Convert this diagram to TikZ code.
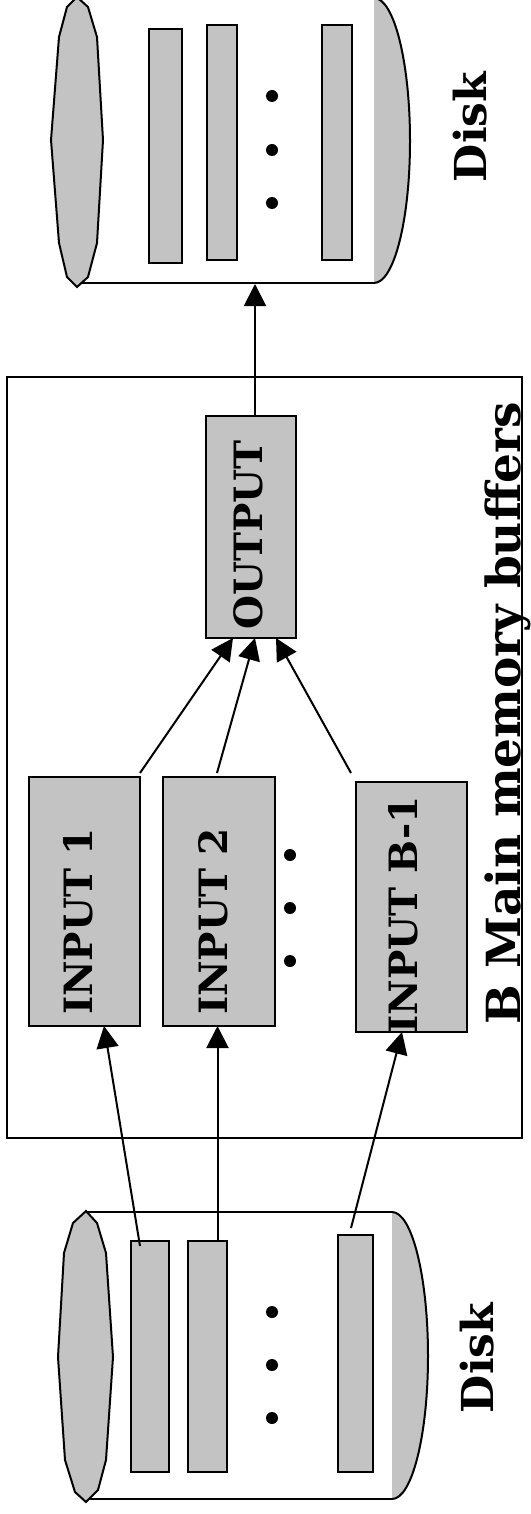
\documentclass[tikz,border=0pt]{standalone}
\usepackage{fontspec}
\setmainfont{DejaVu Serif}
\usetikzlibrary{arrows.meta,calc}
\definecolor{boxgray}{RGB}{195,195,195}
\begin{document}
\begin{tikzpicture}[x=1pt,y=-1pt,
  line width=2pt, line join=miter,
  rec/.style={draw, fill=boxgray, inner sep=0pt, outer sep=0pt},
  dotn/.style={circle, fill=black, inner sep=0pt, minimum size=12pt},
  arr/.style={-{Triangle[length=22pt,width=22pt]}},
  boxtxt/.style={rotate=90, anchor=base, inner sep=0pt, font=\fontsize{39}{44}\selectfont\bfseries},
  bigtxt/.style={rotate=90, anchor=base, inner sep=0pt, font=\fontsize{47}{52}\selectfont\bfseries},
  disktxt/.style={rotate=90, anchor=base, inner sep=0pt, font=\fontsize{44}{50}\selectfont\bfseries},
  capfill/.style={fill=boxgray, draw=black}
]
\useasboundingbox (0,0) rectangle (530,1514);
\clip (0,0) rectangle (530,1514);

% ---------- top disk ----------
\node[inner sep=0pt, minimum width=294, minimum height=286] (topbody) at (227,140) {};
\fill[boxgray] (374,-2) .. controls (394,-2) and (410,62) .. (410,141) .. controls (410,220) and (394,283) .. (374,283) -- cycle;
\draw (374,-2) .. controls (394,-2) and (410,62) .. (410,141) .. controls (410,220) and (394,283) .. (374,283);
\draw (77,-2) -- (374,-2);
\draw (80,283) -- (374,283);
\draw[capfill] (77,-3) -- (88,7) -- (97,37) -- (103,140) -- (97,243) -- (88,277) -- (77,287) -- (67,277) -- (59,243) -- (51,140) -- (59,37) -- (67,7) -- cycle;
\node[rec, minimum width=33, minimum height=234] (tr1) at (165.5,146) {};
\node[rec, minimum width=30, minimum height=235] (tr2) at (222,142.5) {};
\node[rec, minimum width=30, minimum height=235] (tr3) at (337,142.5) {};
\node[dotn] (td1) at (272,96) {};
\node[dotn] (td2) at (272,150) {};
\node[dotn] (td3) at (272,203) {};
\node[disktxt] (tdisk) at (486,127) {Disk};

% ---------- main memory ----------
\node[draw, inner sep=0pt, minimum width=515, minimum height=761] (mem) at (264.5,757.5) {};
\node[bigtxt] (memlbl) at (520,713.5) {B Main memory buffers};

\node[rec, minimum width=90, minimum height=222] (out) at (251,527) {};
\node[boxtxt] (tout) at (262,535) {OUTPUT};

\node[rec, minimum width=111, minimum height=249] (in1) at (84.5,901.5) {};
\node[boxtxt] (tin1) at (92,921.5) {INPUT 1};
\node[rec, minimum width=112, minimum height=249] (in2) at (219,901.5) {};
\node[boxtxt] (tin2) at (227,921.5) {INPUT 2};
\node[rec, minimum width=111, minimum height=250] (inb) at (411.5,907) {};
\node[boxtxt] (tinb) at (417,915) {INPUT B-1};

\node[dotn] (md1) at (290,855) {};
\node[dotn] (md2) at (290,908) {};
\node[dotn] (md3) at (290,961) {};

% ---------- bottom disk ----------
\fill[boxgray] (392,1212) .. controls (412,1212) and (428,1277) .. (428,1356) .. controls (428,1435) and (412,1499) .. (392,1499) -- cycle;
\draw (392,1212) .. controls (412,1212) and (428,1277) .. (428,1356) .. controls (428,1435) and (412,1499) .. (392,1499);
\draw (86,1212) -- (392,1212);
\draw (86,1499) -- (392,1499);
\draw[capfill] (86,1211) -- (97,1223) -- (106,1253) -- (113,1357) -- (106,1460) -- (98,1490) -- (86,1502) -- (75,1492) -- (65,1460) -- (58,1357) -- (64,1253) -- (73,1223) -- cycle;
\node[rec, minimum width=38, minimum height=231] (br1) at (150,1356.5) {};
\node[rec, minimum width=39, minimum height=231] (br2) at (207.5,1356.5) {};
\node[rec, minimum width=35, minimum height=237] (br3) at (355.5,1353.5) {};
\node[dotn] (bd1) at (272,1312) {};
\node[dotn] (bd2) at (272,1365) {};
\node[dotn] (bd3) at (272,1418) {};
\node[disktxt] (bdisk) at (493,1358) {Disk};

% ---------- connectors ----------
\draw[arr] ($(br1.north)+(-10,5)$) -- ($(in1.south)+(19.5,0)$);
\coordinate (b2s) at ($(br2.north)+(10,0)$);
\draw[arr] (b2s) -- (b2s |- in2.south);
\draw[arr] ($(br3.north)+(-4.5,-7)$) -- ($(inb.south)+(-9.5,0)$);

\draw[arr] ($(in1.north east)+(0,-4)$) -- ($(out.south)+(-18,0)$);
\draw[arr] ($(in2.north)+(-2,-4)$) -- ($(out.south)+(4,0)$);
\draw[arr] ($(inb.north west)+(-5,-9)$) -- ($(out.south)+(25,0)$);

\coordinate (os) at ($(out.north)+(4,0)$);
\draw[arr] (os) -- (os |- topbody.south);
\end{tikzpicture}
\end{document}
